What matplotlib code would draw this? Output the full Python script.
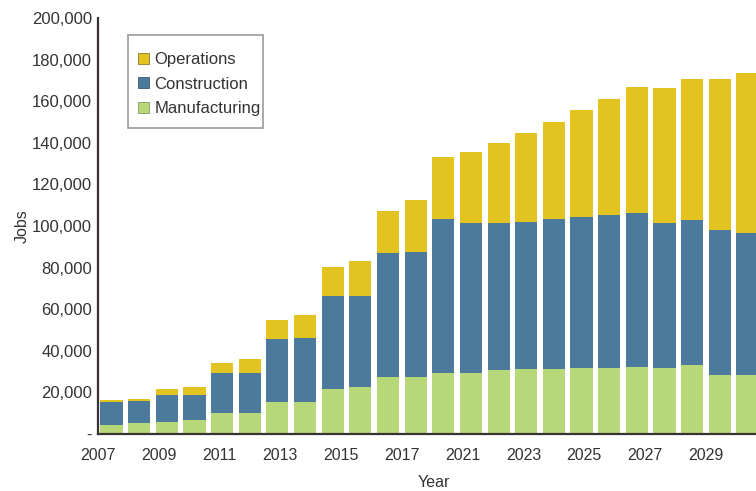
import matplotlib
matplotlib.use("Agg")
import matplotlib.pyplot as plt
import numpy as np
from matplotlib.patches import Patch, Rectangle
from matplotlib.ticker import FuncFormatter

years = list(range(2007, 2031))
manufacturing = [4300, 5100, 5800, 6700, 9900, 9900, 15500, 15500, 21600, 22400, 27300, 27500,
                 29500, 29500, 30800, 31250, 31400, 31900, 31900, 32400, 31900, 33200, 28400, 28400]
construction_top = [15500, 15900, 18750, 18750, 29100, 29100, 45500, 46300, 66300, 66300, 86900, 87600,
                    103400, 101300, 101300, 102100, 103200, 104200, 105300, 106100, 101300, 102900, 98100, 96500]
total_top = [16300, 17000, 21600, 22400, 34300, 35900, 54800, 57000, 80100, 83300, 107400, 112500,
             133000, 135700, 139700, 144500, 150200, 155800, 161200, 166700, 166200, 170800, 170800, 173700]
construction = [c - m for c, m in zip(construction_top, manufacturing)]
operations = [t - c for t, c in zip(total_top, construction_top)]
tick_labels = ["2007", "2009", "2011", "2013", "2015", "2017", "2021", "2023", "2025", "2027", "2029"]

c_ops = "#E3C31F"
c_con = "#4B7A9D"
c_man = "#B6D878"
txt = "#333333"

plt.rcParams['font.family'] = ['Liberation Sans', 'DejaVu Sans']

fig = plt.figure(figsize=(7.56, 4.91), dpi=100)
ax = fig.add_axes([0.1292, 0.1161, 0.8708, 0.8473])

x = np.arange(len(years))
w = 0.8
ax.bar(x, manufacturing, w, color=c_man, edgecolor='none')
ax.bar(x, construction, w, bottom=manufacturing, color=c_con, edgecolor='none')
ax.bar(x, operations, w, bottom=construction_top, color=c_ops, edgecolor='none')

ax.set_xlim(-0.5, 23.31)
ax.set_ylim(0, 200000)
ax.set_yticks(np.arange(0, 200001, 20000))
ax.yaxis.set_major_formatter(FuncFormatter(lambda v, p: "-" if v == 0 else f"{int(v):,}"))
ax.set_xticks(np.linspace(0, 22, len(tick_labels)) - 0.5)
ax.set_xticklabels(tick_labels)
ax.tick_params(axis='both', length=0, colors=txt)
ax.tick_params(axis='x', pad=10, labelsize=11.5)
ax.tick_params(axis='y', pad=4, labelsize=12)

for s in ['top', 'right']:
    ax.spines[s].set_visible(False)
for s in ['left', 'bottom']:
    ax.spines[s].set_color('#3a3232')
    ax.spines[s].set_linewidth(1.6)

ax.set_xlabel("Year", fontsize=11.5, color=txt, labelpad=9, x=0.511)
ax.set_ylabel("Jobs", fontsize=11.5, color=txt, labelpad=2)

handles = [Patch(facecolor=c_ops, edgecolor='#8a7a30', linewidth=0.6),
           Patch(facecolor=c_con, edgecolor='#3a5a70', linewidth=0.6),
           Patch(facecolor=c_man, edgecolor='#8a9a60', linewidth=0.6)]
leg = ax.legend(handles, ["Operations", "Construction", "Manufacturing"],
                loc='upper left', bbox_to_anchor=(0.0612, 0.9176), borderaxespad=0,
                fontsize=12, frameon=False,
                handlelength=0.64, handleheight=0.64, handletextpad=0.34,
                labelspacing=0.56, borderpad=0)
for t in leg.get_texts():
    t.set_color(txt)

fig.patches.append(Rectangle((128 / 756, (491 - 128) / 491), 135 / 756, 93 / 491,
                             transform=fig.transFigure, fill=False,
                             edgecolor='#999999', linewidth=1.2, zorder=5))

fig.savefig("out.png", dpi=100)
